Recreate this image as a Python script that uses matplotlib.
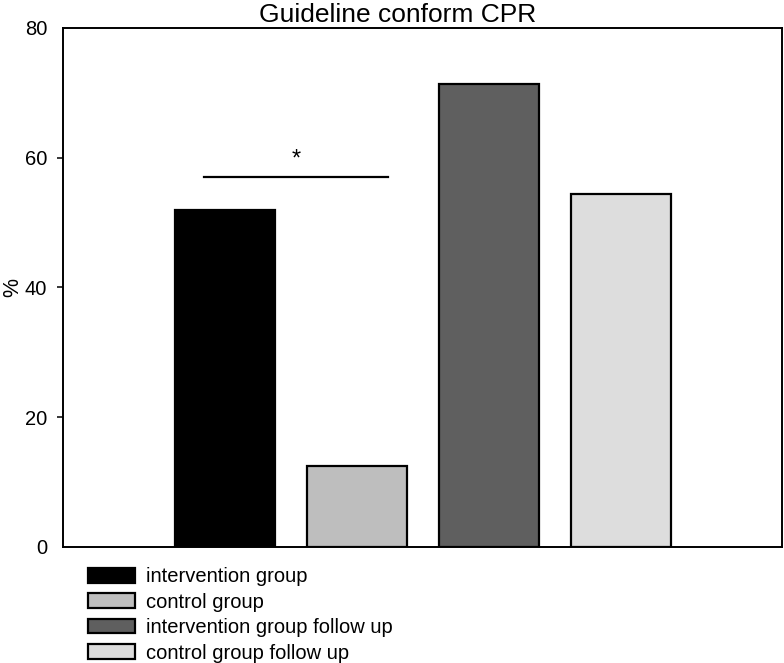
import matplotlib.pyplot as plt
from matplotlib.patches import Patch

plt.rcParams['font.family'] = ['Liberation Sans', 'DejaVu Sans']

# data
groups = ["intervention group", "control group",
          "intervention group follow up", "control group follow up"]
values = [51.9, 12.5, 71.4, 54.4]
colors = ["#000000", "#bebebe", "#5f5f5f", "#dddddd"]
positions = [1, 2, 3, 4]

fig = plt.figure(figsize=(7.84, 6.63), dpi=100)
ax = fig.add_axes([0.0804, 0.175, 0.917, 0.783])

ax.bar(positions, values, width=0.757, color=colors, edgecolor="black", linewidth=1.6)

# significance bar
ax.plot([0.84, 2.235], [57.0, 57.0], color="black", linewidth=1.6)
ax.text(1.54, 58.0, "*", ha="center", va="bottom", fontsize=17)

ax.set_xlim(-0.227, 5.22)
ax.set_ylim(0, 80)
ax.set_yticks([0, 20, 40, 60, 80])
ax.set_xticks([])
ax.tick_params(axis="y", length=4.5, width=1.1, pad=7, labelsize=14.5)
ticks = ax.yaxis.get_major_ticks()
ticks[0].tick1line.set_visible(False)
ticks[-1].tick1line.set_visible(False)
for s in ax.spines.values():
    s.set_linewidth(1.4)

fig.text(398 / 784, 0.995, "Guideline conform CPR", fontsize=19, ha="center", va="top")
# y label placed just inside the left figure edge
fig.text(0.003, 0.175 + 0.783 * 40 / 80, "%", fontsize=15.5, rotation=90,
         ha="left", va="center")

handles = [Patch(facecolor=c, edgecolor="black", linewidth=1.6) for c in colors]
fig.legend(handles, groups, loc="upper left", bbox_to_anchor=(0.112, 0.1445),
           frameon=False, fontsize=14.5, handlelength=2.35, handleheight=0.75,
           labelspacing=0.32, handletextpad=0.55, borderaxespad=0, borderpad=0)

plt.savefig("out.png", dpi=100)
